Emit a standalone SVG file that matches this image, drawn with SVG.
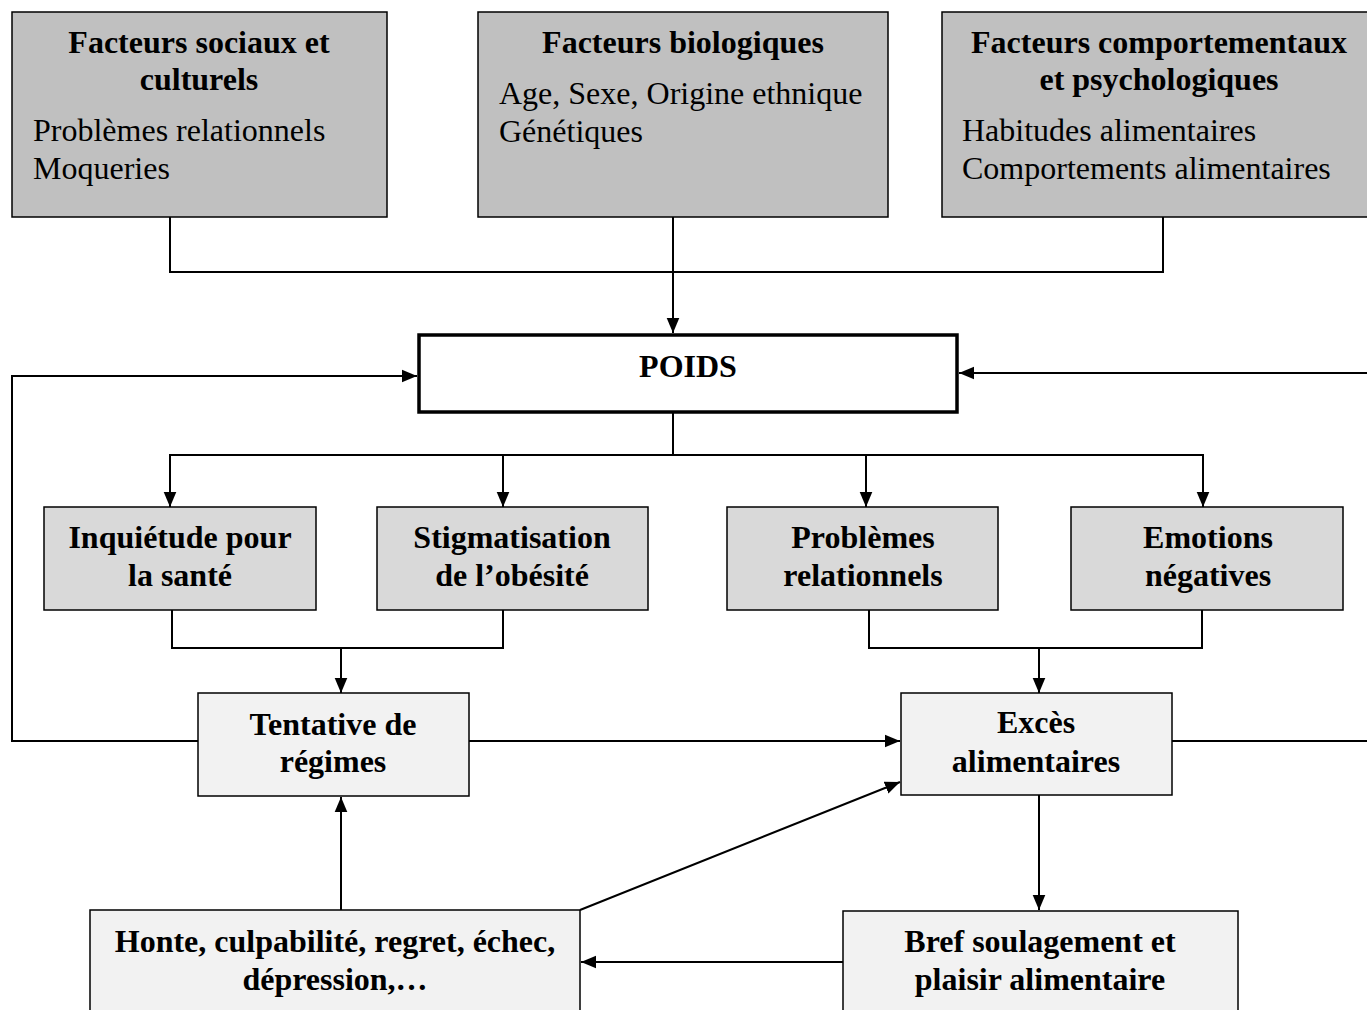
<svg xmlns="http://www.w3.org/2000/svg" width="1367" height="1010" viewBox="0 0 1367 1010">
<style>
text{font-family:"Liberation Serif","Times New Roman",serif;font-size:32px;fill:#000}
.b{font-weight:bold;text-anchor:middle}
.top rect{fill:#c0c0c0;stroke:#000;stroke-width:1.5}
.mid rect{fill:#d9d9d9;stroke:#000;stroke-width:1.5}
.low rect{fill:#f2f2f2;stroke:#000;stroke-width:1.5}
#connectors path{fill:none;stroke:#000;stroke-width:2}
</style>
<defs>
<marker id="a" viewBox="0 0 10 10" refX="10" refY="5" markerWidth="15" markerHeight="15" markerUnits="userSpaceOnUse" orient="auto">
<path d="M0,0.8 L10,5 L0,9.2 z" fill="#000"/>
</marker>
</defs>
<rect width="1367" height="1010" fill="#fff"/>

<g id="connectors">
<path d="M170,217 V272 H1163 V217"/>
<path d="M673,217 V333" marker-end="url(#a)"/>
<path d="M198,741 H12 V376 H417" marker-end="url(#a)"/>
<path d="M1172,741 H1367 M1367,373 H959" marker-end="url(#a)"/>
<path d="M673,413 V455 H170 V507" marker-end="url(#a)"/>
<path d="M503,455 V507" marker-end="url(#a)"/>
<path d="M673,455 H1203 V507" marker-end="url(#a)"/>
<path d="M866,455 V507" marker-end="url(#a)"/>
<path d="M172,610 V648 H503 V610"/>
<path d="M341,648 V693" marker-end="url(#a)"/>
<path d="M869,610 V648 H1202 V610"/>
<path d="M1039,648 V693" marker-end="url(#a)"/>
<path d="M469,741 H900" marker-end="url(#a)"/>
<path d="M1039,795 V910" marker-end="url(#a)"/>
<path d="M843,962 H581" marker-end="url(#a)"/>
<path d="M341,910 V797" marker-end="url(#a)"/>
<path d="M580,910 L900,782" marker-end="url(#a)"/>
</g>

<g id="n-social" class="top">
<rect x="12" y="12" width="375" height="205"/>
<text class="b" x="199" y="53">Facteurs sociaux et</text>
<text class="b" x="199" y="90">culturels</text>
<text x="33" y="141">Problèmes relationnels</text>
<text x="33" y="179">Moqueries</text>
</g>
<g id="n-bio" class="top">
<rect x="478" y="12" width="410" height="205"/>
<text class="b" x="683" y="53">Facteurs biologiques</text>
<text x="499" y="104">Age, Sexe, Origine ethnique</text>
<text x="499" y="142">Génétiques</text>
</g>
<g id="n-comport" class="top">
<rect x="942" y="12" width="440" height="205"/>
<text class="b" x="1159" y="53">Facteurs comportementaux</text>
<text class="b" x="1159" y="90">et psychologiques</text>
<text x="962" y="141">Habitudes alimentaires</text>
<text x="962" y="179">Comportements alimentaires</text>
</g>

<g id="n-poids">
<rect x="419" y="335" width="538" height="77" fill="#fff" stroke="#000" stroke-width="3.5"/>
<text class="b" x="688" y="377">POIDS</text>
</g>

<g id="n-inquietude" class="mid">
<rect x="44" y="507" width="272" height="103"/>
<text class="b" x="180" y="548">Inquiétude pour</text>
<text class="b" x="180" y="586">la santé</text>
</g>
<g id="n-stigma" class="mid">
<rect x="377" y="507" width="271" height="103"/>
<text class="b" x="512" y="548">Stigmatisation</text>
<text class="b" x="512" y="586">de l’obésité</text>
</g>
<g id="n-problemes" class="mid">
<rect x="727" y="507" width="271" height="103"/>
<text class="b" x="863" y="548">Problèmes</text>
<text class="b" x="863" y="586">relationnels</text>
</g>
<g id="n-emotions" class="mid">
<rect x="1071" y="507" width="272" height="103"/>
<text class="b" x="1208" y="548">Emotions</text>
<text class="b" x="1208" y="586">négatives</text>
</g>

<g id="n-tentative" class="low">
<rect x="198" y="693" width="271" height="103"/>
<text class="b" x="333" y="735">Tentative de</text>
<text class="b" x="333" y="772">régimes</text>
</g>
<g id="n-exces" class="low">
<rect x="901" y="693" width="271" height="102"/>
<text class="b" x="1036" y="733">Excès</text>
<text class="b" x="1036" y="772">alimentaires</text>
</g>
<g id="n-honte" class="low">
<rect x="90" y="910" width="490" height="110"/>
<text class="b" x="335" y="952">Honte, culpabilité, regret, échec,</text>
<text class="b" x="335" y="990">dépression,…</text>
</g>
<g id="n-bref" class="low">
<rect x="843" y="911" width="395" height="110"/>
<text class="b" x="1040" y="952">Bref soulagement et</text>
<text class="b" x="1040" y="990">plaisir alimentaire</text>
</g>
</svg>
